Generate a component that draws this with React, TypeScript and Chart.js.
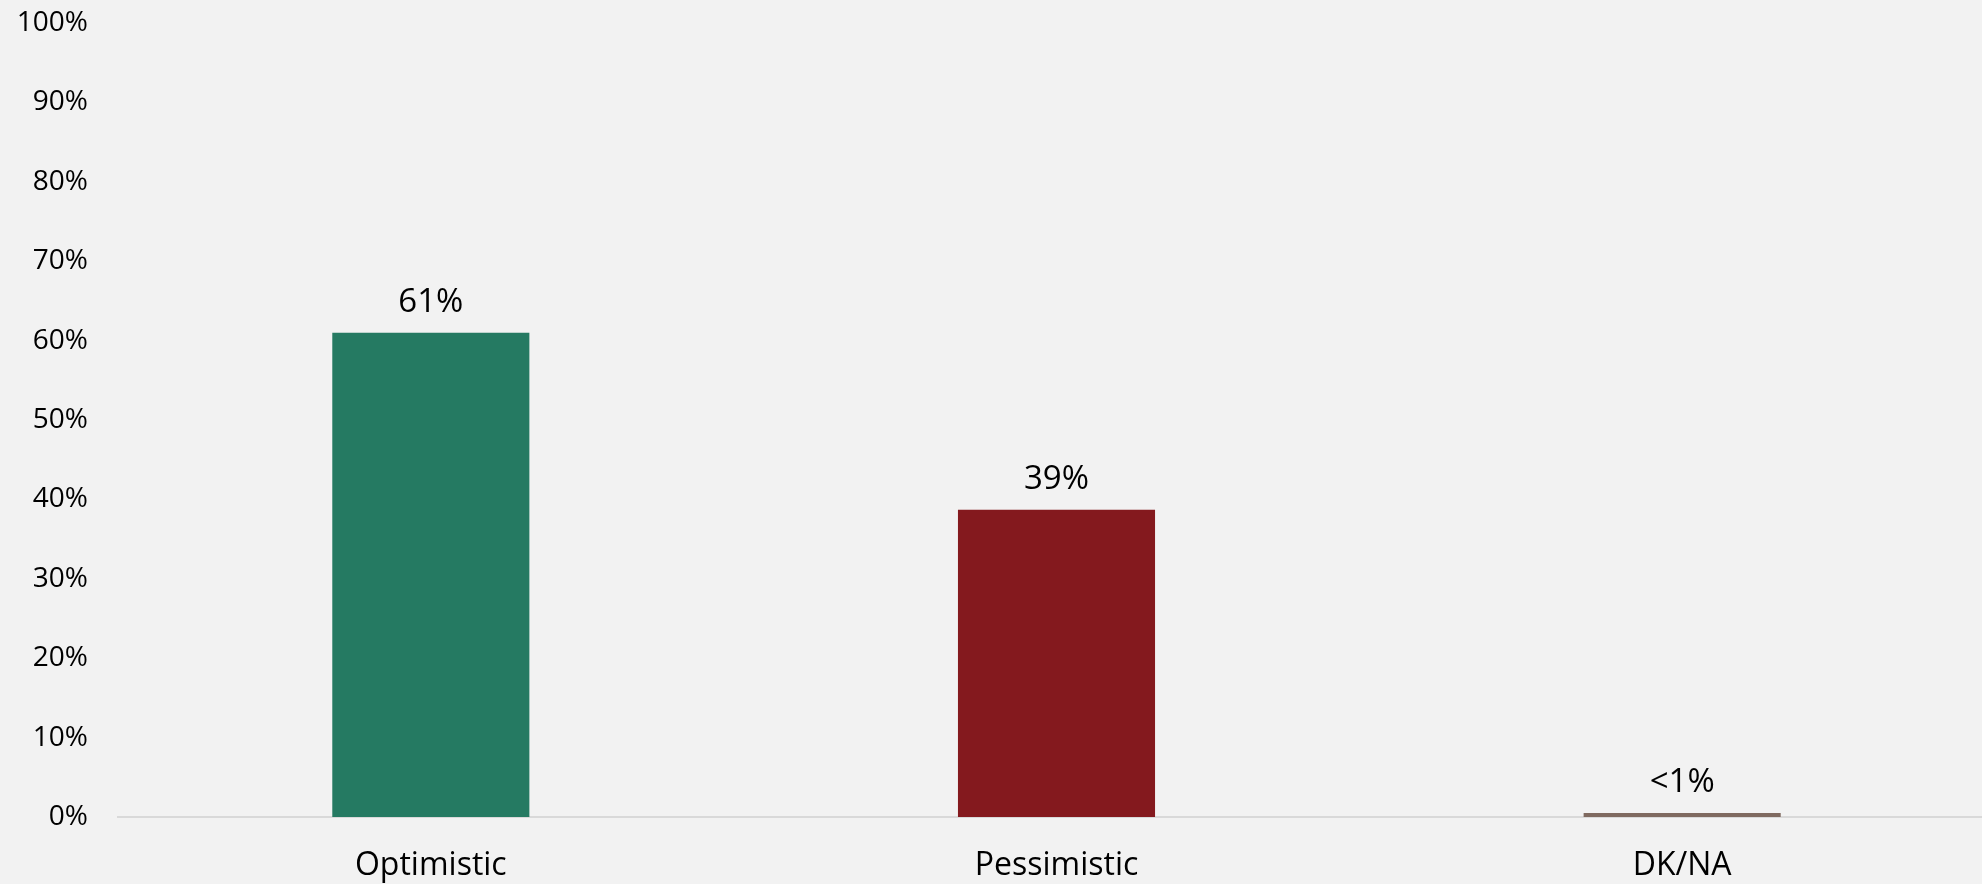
import React, { useEffect, useRef } from "react";
import { Chart, registerables } from "chart.js";

Chart.register(...registerables);

const categories = ["Optimistic", "Pessimistic", "DK/NA"];
const values = [0.61, 0.387, 0.005];
const valueLabels = ["61%", "39%", "<1%"];
const barColors = ["#257A62", "#84191E", "#7F6A60"];
const yTicks = [0, 0.1, 0.2, 0.3, 0.4, 0.5, 0.6, 0.7, 0.8, 0.9, 1];

const FONT = "'Open Sans', 'Noto Sans', sans-serif";

const labelPlugin = {
  id: "valueLabels",
  afterDatasetsDraw(chart: any) {
    const ctx = chart.ctx;
    const meta = chart.getDatasetMeta(0);
    ctx.save();
    ctx.font = `33px ${FONT}`;
    ctx.fillStyle = "#000";
    ctx.textAlign = "center";
    ctx.textBaseline = "alphabetic";
    meta.data.forEach((bar: any, i: number) => {
      ctx.fillText(valueLabels[i], bar.x, bar.y - 21);
    });
    ctx.restore();
  },
};

export default function App() {
  const ref = useRef<HTMLCanvasElement>(null);
  useEffect(() => {
    if (!ref.current) return;
    const chart = new Chart(ref.current, {
      type: "bar",
      data: {
        labels: categories,
        datasets: [
          {
            data: values,
            backgroundColor: barColors,
            categoryPercentage: 1,
            barPercentage: 0.315,
          },
        ],
      },
      options: {
        animation: false,
        responsive: false,
        maintainAspectRatio: false,
        layout: { padding: { top: 23, right: 0, left: 0, bottom: 0 } },
        plugins: {
          legend: { display: false },
          tooltip: { enabled: false },
        },
        scales: {
          x: {
            grid: { display: false },
            border: { color: "#d9d9d9", width: 2 },
            ticks: {
              color: "#000",
              font: { family: FONT, size: 32 },
              padding: 22,
            },
            afterFit: (s: any) => {
              s.height = 67;
              s.paddingLeft = 0;
              s.paddingRight = 0;
            },
          },
          y: {
            min: 0,
            max: 1,
            afterBuildTicks: (s: any) => {
              s.ticks = yTicks.map((v) => ({ value: v }));
            },
            grid: { display: false },
            border: { display: false },
            ticks: {
              color: "#000",
              font: { family: FONT, size: 28 },
              padding: 22,
              callback: (v: any) => `${Math.round(Number(v) * 100)}%`,
            },
            afterFit: (s: any) => {
              s.width = 118;
              s.paddingTop = 0;
              s.paddingBottom = 0;
            },
          },
        },
      },
      plugins: [labelPlugin],
    });
    return () => chart.destroy();
  }, []);
  return (
    <div
      style={{
        position: "fixed",
        left: 0,
        top: 0,
        width: 1982,
        height: 884,
        overflow: "hidden",
        background: "#f2f2f2",
      }}
    >
      <canvas ref={ref} width={1995} height={884} style={{ display: "block" }} />
    </div>
  );
}
